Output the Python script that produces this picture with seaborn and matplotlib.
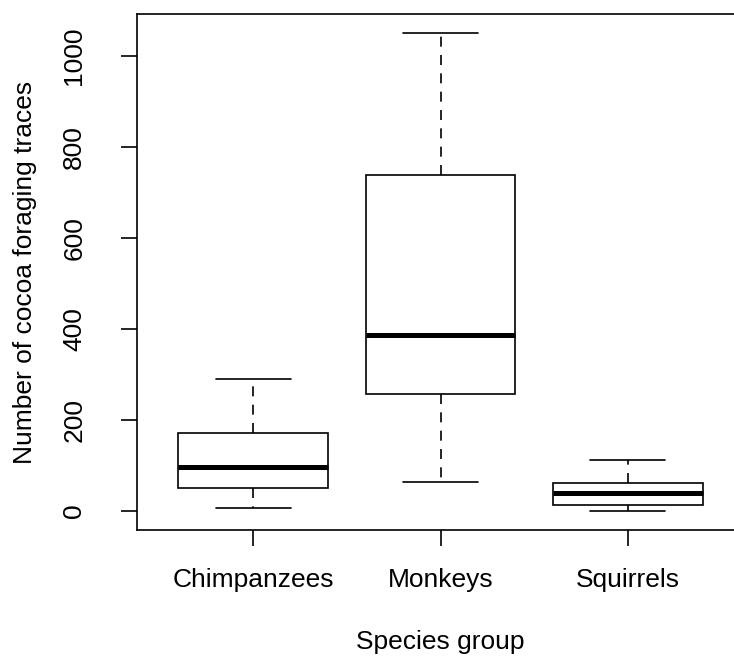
import matplotlib
matplotlib.use("Agg")
import matplotlib.pyplot as plt
import pandas as pd
import seaborn as sns

# five-number summaries: min, Q1, median, Q3, max
species = ["Chimpanzees", "Monkeys", "Squirrels"]
chimpanzees = [7, 51, 96, 172, 290]
monkeys = [63, 257, 387, 738, 1050]
squirrels = [0, 14, 40, 61, 111]
yticks = [0, 200, 400, 600, 800, 1000]

rows = []
for name, values in zip(species, [chimpanzees, monkeys, squirrels]):
    for v in values:
        rows.append({"species": name, "traces": v})
df = pd.DataFrame(rows)

sns.set_style("ticks")
plt.rcParams["font.family"] = ["Liberation Sans", "DejaVu Sans"]
plt.rcParams["text.color"] = "black"
plt.rcParams["axes.labelcolor"] = "black"

lw = 1.2
fig = plt.figure(figsize=(7.34, 6.59), dpi=100)
ax = fig.add_axes([137 / 734, 129 / 659, 607 / 734, 516 / 659])

sns.boxplot(
    data=df, x="species", y="traces", order=species, ax=ax,
    whis=(0, 100), width=0.8, color="white", linecolor="black",
    linewidth=lw, saturation=1,
    whiskerprops={"linestyle": (0, (6, 5))},
    medianprops={"linewidth": 3.6},
)

ax.set_xlim(-0.62, 2.62)
ax.set_ylim(-42, 1092)
ax.set_yticks(yticks)
ax.set_yticklabels([str(t) for t in yticks], rotation=90, va="center")
for side in ["left", "bottom", "top", "right"]:
    ax.spines[side].set_visible(True)
    ax.spines[side].set_color("black")
    ax.spines[side].set_linewidth(lw)
ax.tick_params(axis="both", direction="out", length=11.5, width=lw,
               colors="black", labelsize=19, top=False, right=False)
ax.tick_params(axis="x", pad=15.5)
ax.tick_params(axis="y", pad=25)
ax.set_xlabel("Species group", fontsize=19, labelpad=28, color="black")
ax.set_ylabel("Number of cocoa foraging traces", fontsize=19, labelpad=18,
              color="black")

fig.savefig("out.png", dpi=100)
